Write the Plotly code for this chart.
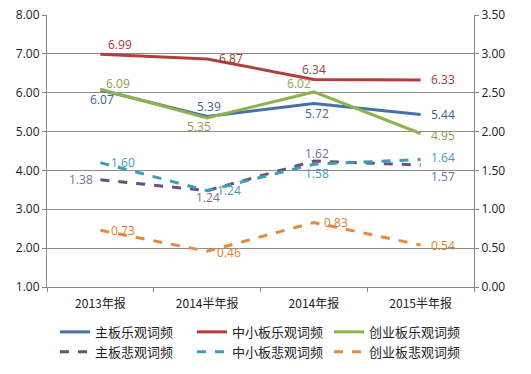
import plotly.graph_objects as go

categories = ["2013年报", "2014半年报", "2014年报", "2015半年报"]

main_opt = [6.07, 5.39, 5.72, 5.44]
sme_opt = [6.99, 6.87, 6.34, 6.33]
gem_opt = [6.09, 5.35, 6.02, 4.95]

main_pes = [1.38, 1.24, 1.62, 1.57]
sme_pes = [1.60, 1.24, 1.58, 1.64]
gem_pes = [0.73, 0.46, 0.83, 0.54]

names = ["主板乐观词频", "中小板乐观词频", "创业板乐观词频",
         "主板悲观词频", "中小板悲观词频", "创业板悲观词频"]

left_ticks = [1, 2, 3, 4, 5, 6, 7, 8]
right_ticks = [0, 0.5, 1, 1.5, 2, 2.5, 3, 3.5]

colors = ["#4472a4", "#b0403d", "#8fb14f", "#66507f", "#3f9db3", "#e8893f"]
label_colors = ["#3c6492", "#a33a37", "#8aa048", "#7d6a97", "#3f9db3", "#e07e2e"]

# label offsets in pixels (dx, dy down-positive) relative to each point
label_offsets = [
    [(2, 10), (2, -10), (3, 10), (22, 0)],
    [(20, -10), (24, 0), (0, -10), (22, 0)],
    [(18, -6), (-8, 9), (-15, -8), (22, 2)],
    [(-19, 0), (1, 7), (3, -8), (22, 12)],
    [(23, 0), (22, 0), (3, 9), (22, -2)],
    [(23, 0), (22, 1), (22, 0), (22, 0)],
]

series = [main_opt, sme_opt, gem_opt, main_pes, sme_pes, gem_pes]

fig = go.Figure()
annotations = []
for i, (vals, nm) in enumerate(zip(series, names)):
    yref = "y" if i < 3 else "y2"
    fig.add_trace(go.Scatter(
        x=categories, y=vals, name=nm, mode="lines",
        line=dict(color=colors[i], width=3, dash="solid" if i < 3 else "dash"),
        yaxis=yref, hoverinfo="skip",
    ))
    for j, v in enumerate(vals):
        dx, dy = label_offsets[i][j]
        annotations.append(dict(
            x=categories[j], y=v, xref="x", yref=yref,
            text=f"{v:.2f}", showarrow=False,
            xanchor="center", yanchor="middle",
            xshift=dx, yshift=-dy,
            font=dict(color=label_colors[i], size=12, family="Open Sans, sans-serif"),
        ))

fig.update_layout(
    width=531, height=374,
    margin=dict(l=47, r=57, t=15, b=87, autoexpand=False),
    paper_bgcolor="white", plot_bgcolor="white",
    font=dict(family="Noto Sans CJK SC, sans-serif", size=12, color="#222"),
    annotations=annotations,
    xaxis=dict(
        type="category", tickson="boundaries", ticks="outside", ticklen=4,
        tickcolor="#888", showline=True, linecolor="#888", showgrid=False,
        ticklabelstandoff=6,
        tickfont=dict(size=12, family="Noto Sans CJK SC, sans-serif", color="#222"),
        range=[-0.5, 3.5],
    ),
    yaxis=dict(
        range=[1, 8], tickvals=left_ticks,
        ticktext=[f"{v:.2f}" for v in left_ticks],
        showgrid=True, gridcolor="#8c8c8c", gridwidth=1,
        showline=True, linecolor="#888", ticks="outside", ticklen=4, tickcolor="#888",
        zeroline=False, tickfont=dict(size=12, family="Open Sans, sans-serif", color="#222"),
    ),
    yaxis2=dict(
        range=[0, 3.5], tickvals=right_ticks,
        ticktext=[f"{v:.2f}" for v in right_ticks],
        overlaying="y", side="right", showgrid=False,
        showline=True, linecolor="#888", ticks="outside", ticklen=4, tickcolor="#888",
        zeroline=False, tickfont=dict(size=12, family="Open Sans, sans-serif", color="#222"),
    ),
    legend=dict(
        orientation="h", x=0.5, xanchor="center", y=-0.11, yanchor="top",
        entrywidth=92, itemwidth=30,
        font=dict(size=13, family="Noto Sans CJK SC, sans-serif", color="#222"),
        tracegroupgap=0,
    ),
    showlegend=True,
)

fig.write_html("out.html", config={"displayModeBar": False},
               post_script="document.body.style.margin='0';")
